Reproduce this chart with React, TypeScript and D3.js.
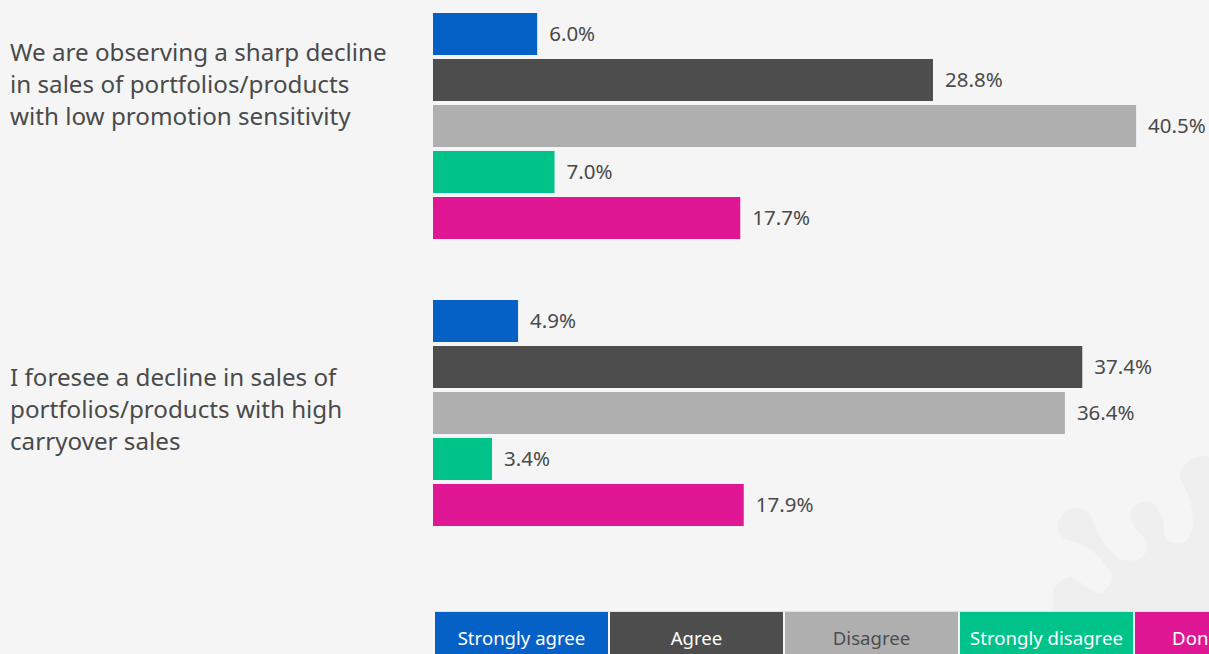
import React from "react";
import * as d3 from "d3";

const statements = [
  ["We are observing a sharp decline", "in sales of portfolios/products", "with low promotion sensitivity"],
  ["I foresee a decline in sales of", "portfolios/products with high", "carryover sales"],
];
const seriesNames = ["Strongly agree", "Agree", "Disagree", "Strongly disagree", "Don't know"];
const colors = ["#0561c6", "#4d4d4d", "#afafaf", "#00c389", "#e01795"];
const legendText = ["#ffffff", "#ffffff", "#4d4d4d", "#ffffff", "#ffffff"];
const values1 = [6.0, 28.8, 40.5, 7.0, 17.7];
const values2 = [4.9, 37.4, 36.4, 3.4, 17.9];
const groupValues = [values1, values2];

const W = 1209;
const H = 654;
const FONT = "'Noto Sans', 'Open Sans', sans-serif";
const TEXT = "#4a4a4a";

const watermark: [number, number][] = [
  [1053, 608], [1055, 587], [1070, 577], [1087, 587], [1100, 593], [1112, 580],
  [1107, 567], [1087, 547], [1062, 537], [1058, 523], [1072, 508], [1088, 512],
  [1100, 537], [1123, 560], [1142, 557], [1147, 543], [1132, 523], [1133, 507],
  [1150, 502], [1162, 517], [1167, 540], [1183, 543], [1192, 530], [1190, 500],
  [1180, 473], [1190, 460], [1209, 458], [1209, 612], [1053, 612],
];

export default function App() {
  const x = d3.scaleLinear().domain([0, 100]).range([433, 433 + 1736]);
  const gy = d3.scaleBand<number>().domain([0, 1]).range([13, 13 + 287 * 2]).paddingInner(0);
  const sy = d3
    .scaleBand<number>()
    .domain(d3.range(seriesNames.length))
    .range([0, 46 * 5 - 4])
    .paddingInner(4 / 46)
    .paddingOuter(0);
  const labelShift = [-41, -3];
  const legendX = d3.scaleBand<number>().domain(d3.range(seriesNames.length)).range([434, 434 + 175 * 5]);
  const blob = d3.line().curve(d3.curveCatmullRomClosed.alpha(0.5))(watermark) || "";

  return (
    <svg
      width={W}
      height={H}
      style={{ position: "absolute", left: 0, top: 0, background: "#f5f5f5" }}
      fontFamily={FONT}
    >
      <rect x={0} y={0} width={W} height={H} fill="#f5f5f5" />
      <path d={blob} fill="#efefef" />
      {groupValues.map((vals, gi) => {
        const g0 = gy(gi)!;
        const cy = g0 + (46 * 5 - 4) / 2 + labelShift[gi];
        return (
          <g key={gi}>
            {statements[gi].map((line, li) => (
              <text
                key={li}
                x={10}
                y={cy + (li - 1) * 32}
                dy="0.35em"
                fontSize={24.2}
                fill={TEXT}
              >
                {line}
              </text>
            ))}
            {vals.map((v, si) => {
              const y0 = g0 + sy(si)!;
              return (
                <g key={si}>
                  <rect x={x(0)} y={y0} width={x(v) - x(0)} height={sy.bandwidth()} fill={colors[si]} />
                  <text
                    x={x(v) + 12}
                    y={y0 + sy.bandwidth() / 2}
                    dy="0.35em"
                    fontSize={20.5}
                    fill={TEXT}
                  >
                    {v.toFixed(1) + "%"}
                  </text>
                </g>
              );
            })}
          </g>
        );
      })}
      <line x1={434} x2={W} y1={611.5} y2={611.5} stroke="#e2e2e2" />
      {seriesNames.map((name, i) => (
        <g key={name}>
          <rect x={legendX(i)! + 1} y={612} width={legendX.bandwidth() - 2} height={50} fill={colors[i]} />
          <text
            x={legendX(i)! + legendX.bandwidth() / 2}
            y={638}
            dy="0.35em"
            textAnchor="middle"
            fontSize={18.6}
            fill={legendText[i]}
          >
            {name}
          </text>
        </g>
      ))}
    </svg>
  );
}
